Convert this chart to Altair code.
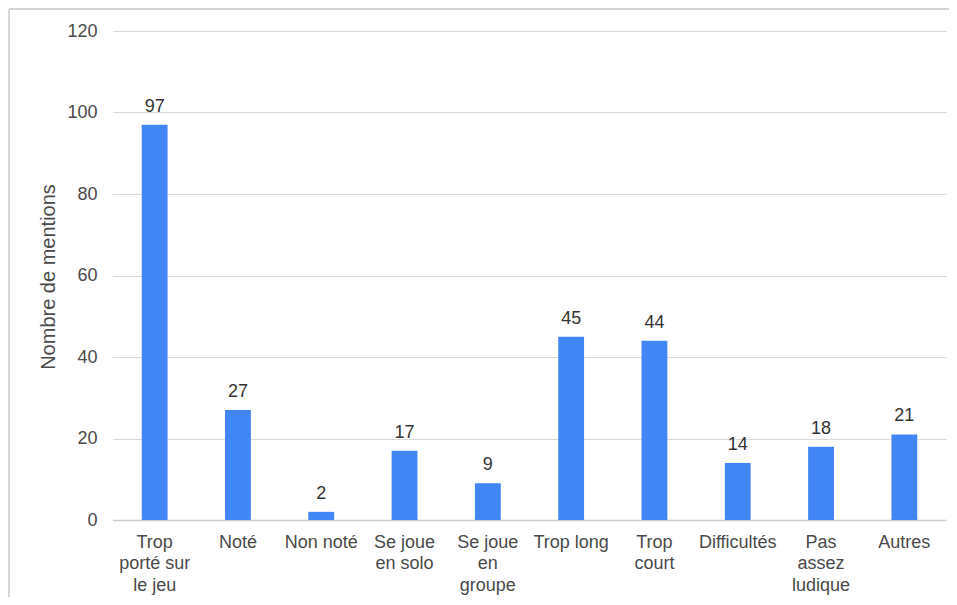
import altair as alt
import pandas as pd

categories = ["Trop|porté sur|le jeu", "Noté", "Non noté", "Se joue|en solo",
              "Se joue|en|groupe", "Trop long", "Trop|court", "Difficultés",
              "Pas|assez|ludique", "Autres"]
mentions = [97, 27, 2, 17, 9, 45, 44, 14, 18, 21]
y_ticks = [0, 20, 40, 60, 80, 100, 120]

df = pd.DataFrame({"cat": categories, "n": mentions})

FONT = "Liberation Sans"
W, H = 833, 489

x_enc = alt.X("cat:N", sort=None, title=None,
              scale=alt.Scale(paddingInner=0.69, paddingOuter=0.345),
              axis=alt.Axis(labelExpr="split(datum.label, '|')", labelAngle=0,
                            labelFontSize=18, labelColor="#4a4a4a", labelFont=FONT,
                            labelLineHeight=21.8, labelPadding=13, ticks=False,
                            domainColor="#cccccc", domainWidth=1.5, labelBaseline="top"))
y_enc = alt.Y("n:Q", title="Nombre de mentions",
              scale=alt.Scale(domain=[0, 120], nice=False),
              axis=alt.Axis(values=y_ticks, grid=True, gridColor="#d9d9d9", gridWidth=1,
                            domain=False, ticks=False, labelFontSize=18, labelColor="#4a4a4a",
                            labelFont=FONT, labelPadding=16, titleFont=FONT,
                            titleFontSize=20, titleColor="#4a4a4a", titleFontWeight="normal",
                            titleX=-65, titleY=H / 2 + 1, titleAngle=270,
                            titleAlign="center", titleBaseline="middle"))

bars = alt.Chart(df).mark_bar(color="#4285F4").encode(x=x_enc, y=y_enc)
labels = alt.Chart(df).mark_text(font=FONT, fontSize=18, color="#333",
                                 baseline="alphabetic", dy=-13).encode(
    x=alt.X("cat:N", sort=None), y="n:Q", text="n:Q")

frame_top = alt.Chart(df).mark_rule(color="#d6d6d6", strokeWidth=2).encode(
    x=alt.value(-104), x2=alt.value(W + 3), y=alt.value(-22))
frame_left = alt.Chart(df).mark_rule(color="#d6d6d6", strokeWidth=2).encode(
    x=alt.value(-104), y=alt.value(-22), y2=alt.value(H + 77))

chart = alt.layer(frame_top, frame_left, bars, labels).properties(
    width=W, height=H,
    autosize=alt.AutoSizeParams(type="none"),
    padding={"left": 105, "top": 23, "right": 3, "bottom": 77},
).configure_view(stroke=None)

chart.save("out.html", embed_options={"renderer": "svg", "actions": False})
